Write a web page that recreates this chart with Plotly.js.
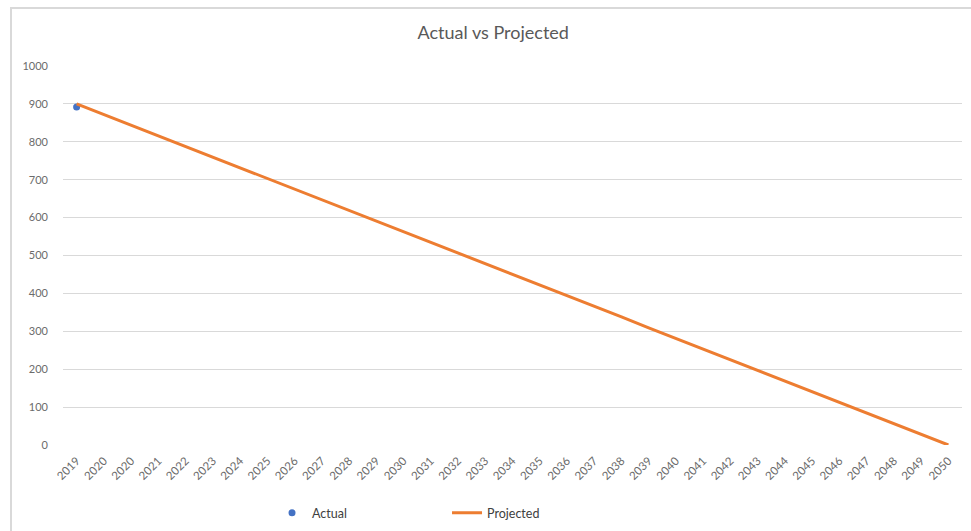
<!DOCTYPE html>
<html>
<head>
<meta charset="utf-8">
<script src="https://cdn.plot.ly/plotly-3.0.1.min.js"></script>
<style>
  html, body { margin: 0; padding: 0; background: #fff; }
  #wrap { position: relative; width: 971px; height: 531px; }
  #chart { width: 971px; height: 531px; }
  #frame { position: absolute; left: 10px; top: 7px; width: 970px; height: 540px;
           border: 2px solid #d9d9d9; pointer-events: none; box-sizing: border-box; }
</style>
</head>
<body>
<div id="wrap">
  <div id="chart"></div>
  <div id="frame"></div>
</div>
<script>
const categories = ["2019","2020","2020","2021","2022","2023","2024","2025","2026","2027",
  "2028","2029","2030","2031","2032","2033","2034","2035","2036","2037","2038","2039",
  "2040","2041","2042","2043","2044","2045","2046","2047","2048","2049","2050"];
const actualValues = [892];
const projectedValues = [900, 872, 844, 816, 788, 759, 731, 703, 675, 647, 619, 591, 563,
  534, 506, 478, 450, 422, 394, 366, 338, 309, 281, 253, 225, 197, 169, 141, 113, 84, 56, 28, 0];
const yTicks = [0, 100, 200, 300, 400, 500, 600, 700, 800, 900, 1000];

const idx = categories.map((c, i) => i);
const fontFam = "Lato, 'Open Sans', 'Liberation Sans', sans-serif";

const traces = [
  {
    name: "Actual", type: "scatter", mode: "markers",
    x: idx.slice(0, actualValues.length), y: actualValues,
    marker: { color: "#4472C4", size: 7 }
  },
  {
    name: "Projected", type: "scatter", mode: "lines",
    x: idx, y: projectedValues,
    line: { color: "#ED7D31", width: 3 }
  }
];

const layout = {
  width: 971, height: 531,
  margin: { l: 63, r: 9, t: 66, b: 86, autoexpand: false },
  paper_bgcolor: "#fff", plot_bgcolor: "#fff",
  font: { family: fontFam, color: "#595959" },
  title: { text: "Actual vs Projected", x: 0.508, xanchor: "center", y: 0.938, yanchor: "middle",
           font: { size: 18, color: "#595959", family: fontFam } },
  xaxis: {
    range: [-0.5, categories.length - 0.5],
    tickmode: "array", tickvals: idx, ticktext: categories,
    tickangle: -45, tickfont: { size: 11.5, color: "#6b6b6b" },
    showgrid: false, zeroline: false, showline: false, ticks: "",
    ticklabelstandoff: 6, automargin: false,
    fixedrange: true
  },
  yaxis: {
    range: [0, 1000], tickmode: "array", tickvals: yTicks,
    tickfont: { size: 11, color: "#6b6b6b" },
    showgrid: true, gridcolor: "#d9d9d9", gridwidth: 1,
    zeroline: false, showline: false, ticks: "", ticklabelstandoff: 14, automargin: false
  },
  showlegend: true,
  legend: {
    orientation: "h", x: 0.2325, xanchor: "left", y: -0.18, yanchor: "middle",
    font: { size: 12.5, color: "#404040", family: fontFam },
    entrywidth: 130, entrywidthmode: "pixels",
    bgcolor: "rgba(0,0,0,0)"
  }
};

Plotly.newPlot("chart", traces, layout, { displayModeBar: false, staticPlot: true });
</script>
</body>
</html>
